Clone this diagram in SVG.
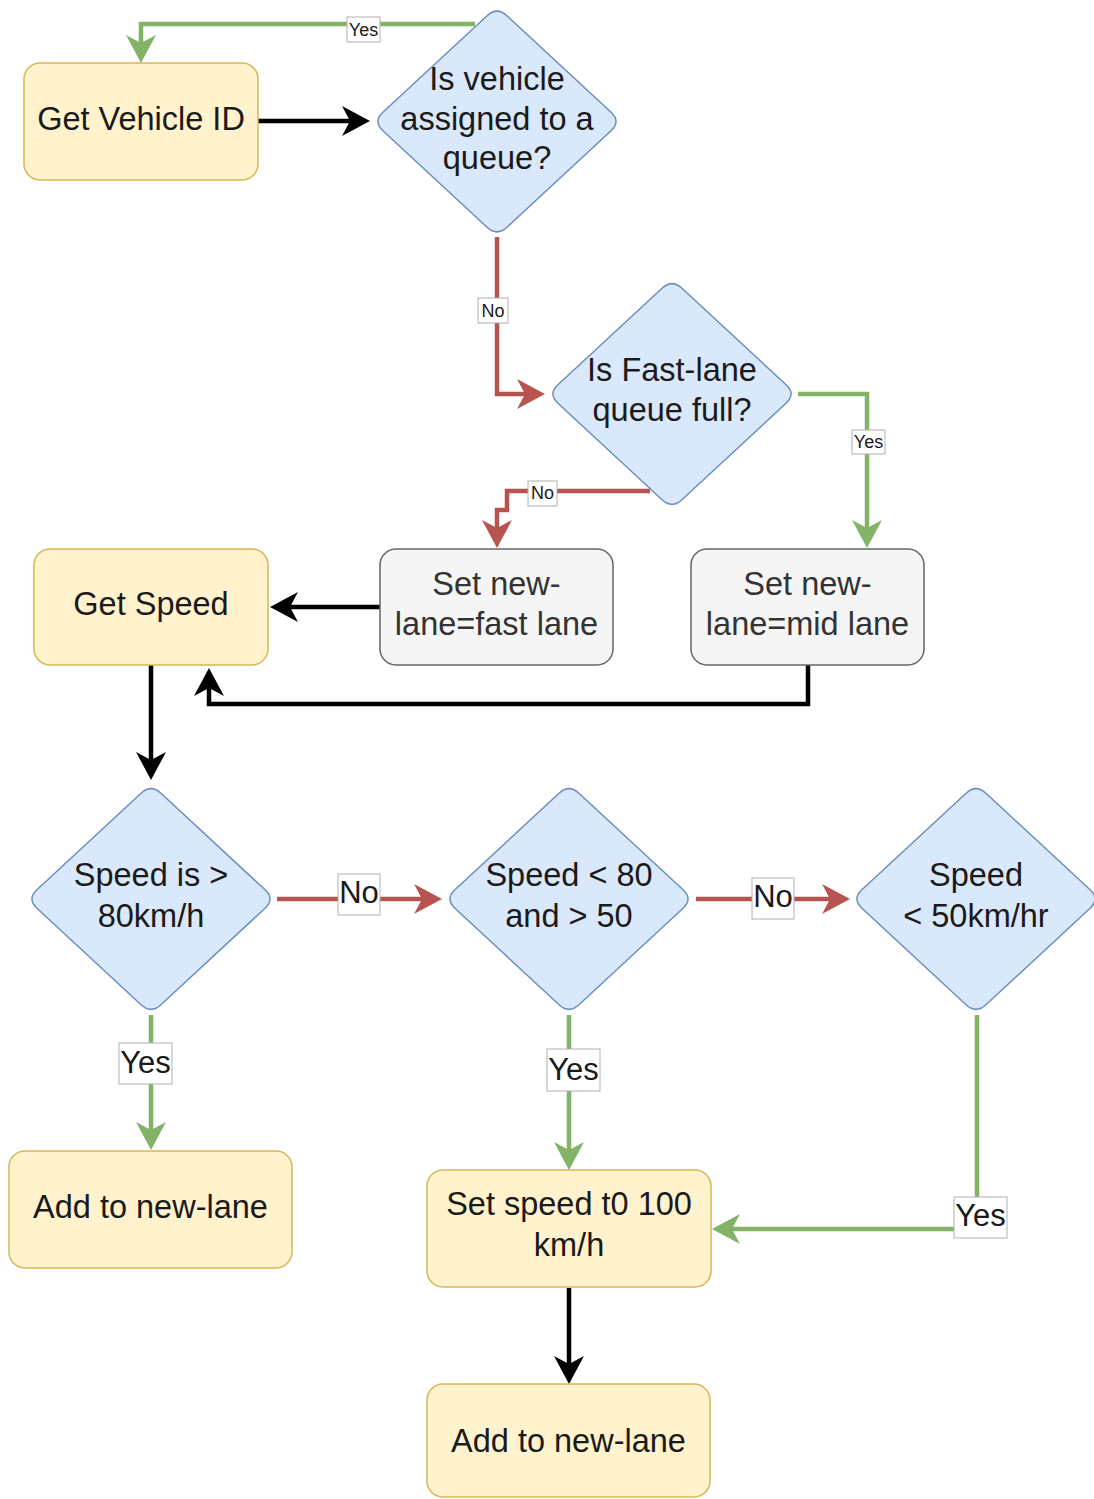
<svg xmlns="http://www.w3.org/2000/svg" width="1094" height="1499" viewBox="0 0 1094 1499">
<style>
.proc{fill:#fff2cc;stroke:#d6b656;stroke-width:1.5}
.grey{fill:#f5f5f5;stroke:#666666;stroke-width:1.5}
.dec{fill:#dae8fc;stroke:#6c8ebf;stroke-width:1.5}
.t{font-family:"Liberation Sans",Arial,sans-serif;font-size:32.5px;fill:#1a1a1a;text-anchor:middle}
.tg{fill:#333333}
.e{fill:none;stroke-width:4.5;stroke-linejoin:miter}
.k{stroke:#000000}
.r{stroke:#b85450}
.g{stroke:#82b366}
.lb{fill:#ffffff;stroke:#b0b0b0;stroke-width:1}
.ls{font-family:"Liberation Sans",Arial,sans-serif;font-size:18px;fill:#1a1a1a;text-anchor:middle}
.ll{font-family:"Liberation Sans",Arial,sans-serif;font-size:31px;fill:#1a1a1a;text-anchor:middle}
</style>
<defs>
<path id="dia" d="M9.92,-105.8 L114.08,-9.2 Q124,0 114.08,9.2 L9.92,105.8 Q0,115 -9.92,105.8 L-114.08,9.2 Q-124,0 -114.08,-9.2 L-9.92,-105.8 Q0,-115 9.92,-105.8 Z"/>
<marker id="ak" markerUnits="userSpaceOnUse" markerWidth="30" markerHeight="32" refX="8" refY="15" orient="auto" overflow="visible"><path d="M0,0 L28,15 L0,30 L8,15 Z" fill="#000000"/></marker>
<marker id="ar" markerUnits="userSpaceOnUse" markerWidth="30" markerHeight="32" refX="8" refY="15" orient="auto" overflow="visible"><path d="M0,0 L28,15 L0,30 L8,15 Z" fill="#b85450"/></marker>
<marker id="ag" markerUnits="userSpaceOnUse" markerWidth="30" markerHeight="32" refX="8" refY="15" orient="auto" overflow="visible"><path d="M0,0 L28,15 L0,30 L8,15 Z" fill="#82b366"/></marker>
</defs>

<g id="connectors">
<path class="e k" d="M258,121 L350,121" marker-end="url(#ak)"/>
<path class="e g" d="M475,24 L141,24 L141,43" marker-end="url(#ag)"/>
<path class="e r" d="M497,237 L497,394 L525,394" marker-end="url(#ar)"/>
<path class="e g" d="M798,394 L867,394 L867,528" marker-end="url(#ag)"/>
<path class="e r" d="M650,491 L507,491 L507,510 L497,510 L497,528" marker-end="url(#ar)"/>
<path class="e k" d="M380,607 L290,607" marker-end="url(#ak)"/>
<path class="e k" d="M808,665 L808,704 L209,704 L209,688" marker-end="url(#ak)"/>
<path class="e k" d="M151,665 L151,760" marker-end="url(#ak)"/>
<path class="e r" d="M277,899 L422,899" marker-end="url(#ar)"/>
<path class="e r" d="M696,899 L830,899" marker-end="url(#ar)"/>
<path class="e g" d="M151,1015 L151,1130" marker-end="url(#ag)"/>
<path class="e g" d="M569,1015 L569,1150" marker-end="url(#ag)"/>
<path class="e g" d="M977,1015 L977,1229 L732,1229" marker-end="url(#ag)"/>
<path class="e k" d="M569,1288 L569,1364" marker-end="url(#ak)"/>

<rect class="lb" x="347" y="17" width="33" height="25"/><text class="ls" x="363.5" y="36">Yes</text>
<rect class="lb" x="478" y="298" width="30" height="25"/><text class="ls" x="493" y="317">No</text>
<rect class="lb" x="852" y="430" width="33" height="24"/><text class="ls" x="868.5" y="448">Yes</text>
<rect class="lb" x="528" y="481" width="29" height="25"/><text class="ls" x="542.5" y="499">No</text>
<rect class="lb" x="338" y="874" width="42" height="41"/><text class="ll" x="359" y="903">No</text>
<rect class="lb" x="752" y="878" width="42" height="41"/><text class="ll" x="773" y="907">No</text>
<rect class="lb" x="119" y="1043" width="53" height="41"/><text class="ll" x="145.5" y="1073">Yes</text>
<rect class="lb" x="547" y="1049" width="53" height="42"/><text class="ll" x="573.5" y="1080">Yes</text>
<rect class="lb" x="954" y="1197" width="53" height="41"/><text class="ll" x="980.5" y="1226">Yes</text>
</g>

<g id="get-vehicle-id">
<rect class="proc" x="24" y="63" width="234" height="117" rx="16"/>
<text class="t" x="141" y="130">Get Vehicle ID</text>
</g>

<g id="is-assigned">
<use href="#dia" class="dec" transform="translate(497,121.5)"/>
<text class="t" x="497" y="90">Is vehicle</text>
<text class="t" x="497" y="130">assigned to a</text>
<text class="t" x="497" y="169">queue?</text>
</g>

<g id="fast-lane-full">
<use href="#dia" class="dec" transform="translate(672,394)"/>
<text class="t" x="672" y="381">Is Fast-lane</text>
<text class="t" x="672" y="421">queue full?</text>
</g>

<g id="get-speed">
<rect class="proc" x="34" y="549" width="234" height="116" rx="16"/>
<text class="t" x="151" y="615">Get Speed</text>
</g>

<g id="set-fast-lane">
<rect class="grey" x="380" y="549" width="233" height="116" rx="16"/>
<text class="t tg" x="496.5" y="595">Set new-</text>
<text class="t tg" x="496.5" y="635">lane=fast lane</text>
</g>

<g id="set-mid-lane">
<rect class="grey" x="691" y="549" width="233" height="116" rx="16"/>
<text class="t tg" x="807.5" y="595">Set new-</text>
<text class="t tg" x="807.5" y="635">lane=mid lane</text>
</g>

<g id="speed-gt-80">
<use href="#dia" class="dec" transform="translate(151,899)"/>
<text class="t" x="151" y="886">Speed is &gt;</text>
<text class="t" x="151" y="927">80km/h</text>
</g>

<g id="speed-80-50">
<use href="#dia" class="dec" transform="translate(569,899)"/>
<text class="t" x="569" y="886">Speed &lt; 80</text>
<text class="t" x="569" y="927">and &gt; 50</text>
</g>

<g id="speed-lt-50">
<use href="#dia" class="dec" transform="translate(976,899)"/>
<text class="t" x="976" y="886">Speed</text>
<text class="t" x="976" y="927">&lt; 50km/hr</text>
</g>

<g id="add-new-lane-1">
<rect class="proc" x="9" y="1151" width="283" height="117" rx="16"/>
<text class="t" x="150.5" y="1218">Add to new-lane</text>
</g>

<g id="set-speed-100">
<rect class="proc" x="427" y="1170" width="284" height="117" rx="16"/>
<text class="t" x="569" y="1215">Set speed t0 100</text>
<text class="t" x="569" y="1256">km/h</text>
</g>

<g id="add-new-lane-2">
<rect class="proc" x="427" y="1384" width="283" height="113" rx="16"/>
<text class="t" x="568.5" y="1452">Add to new-lane</text>
</g>
</svg>
